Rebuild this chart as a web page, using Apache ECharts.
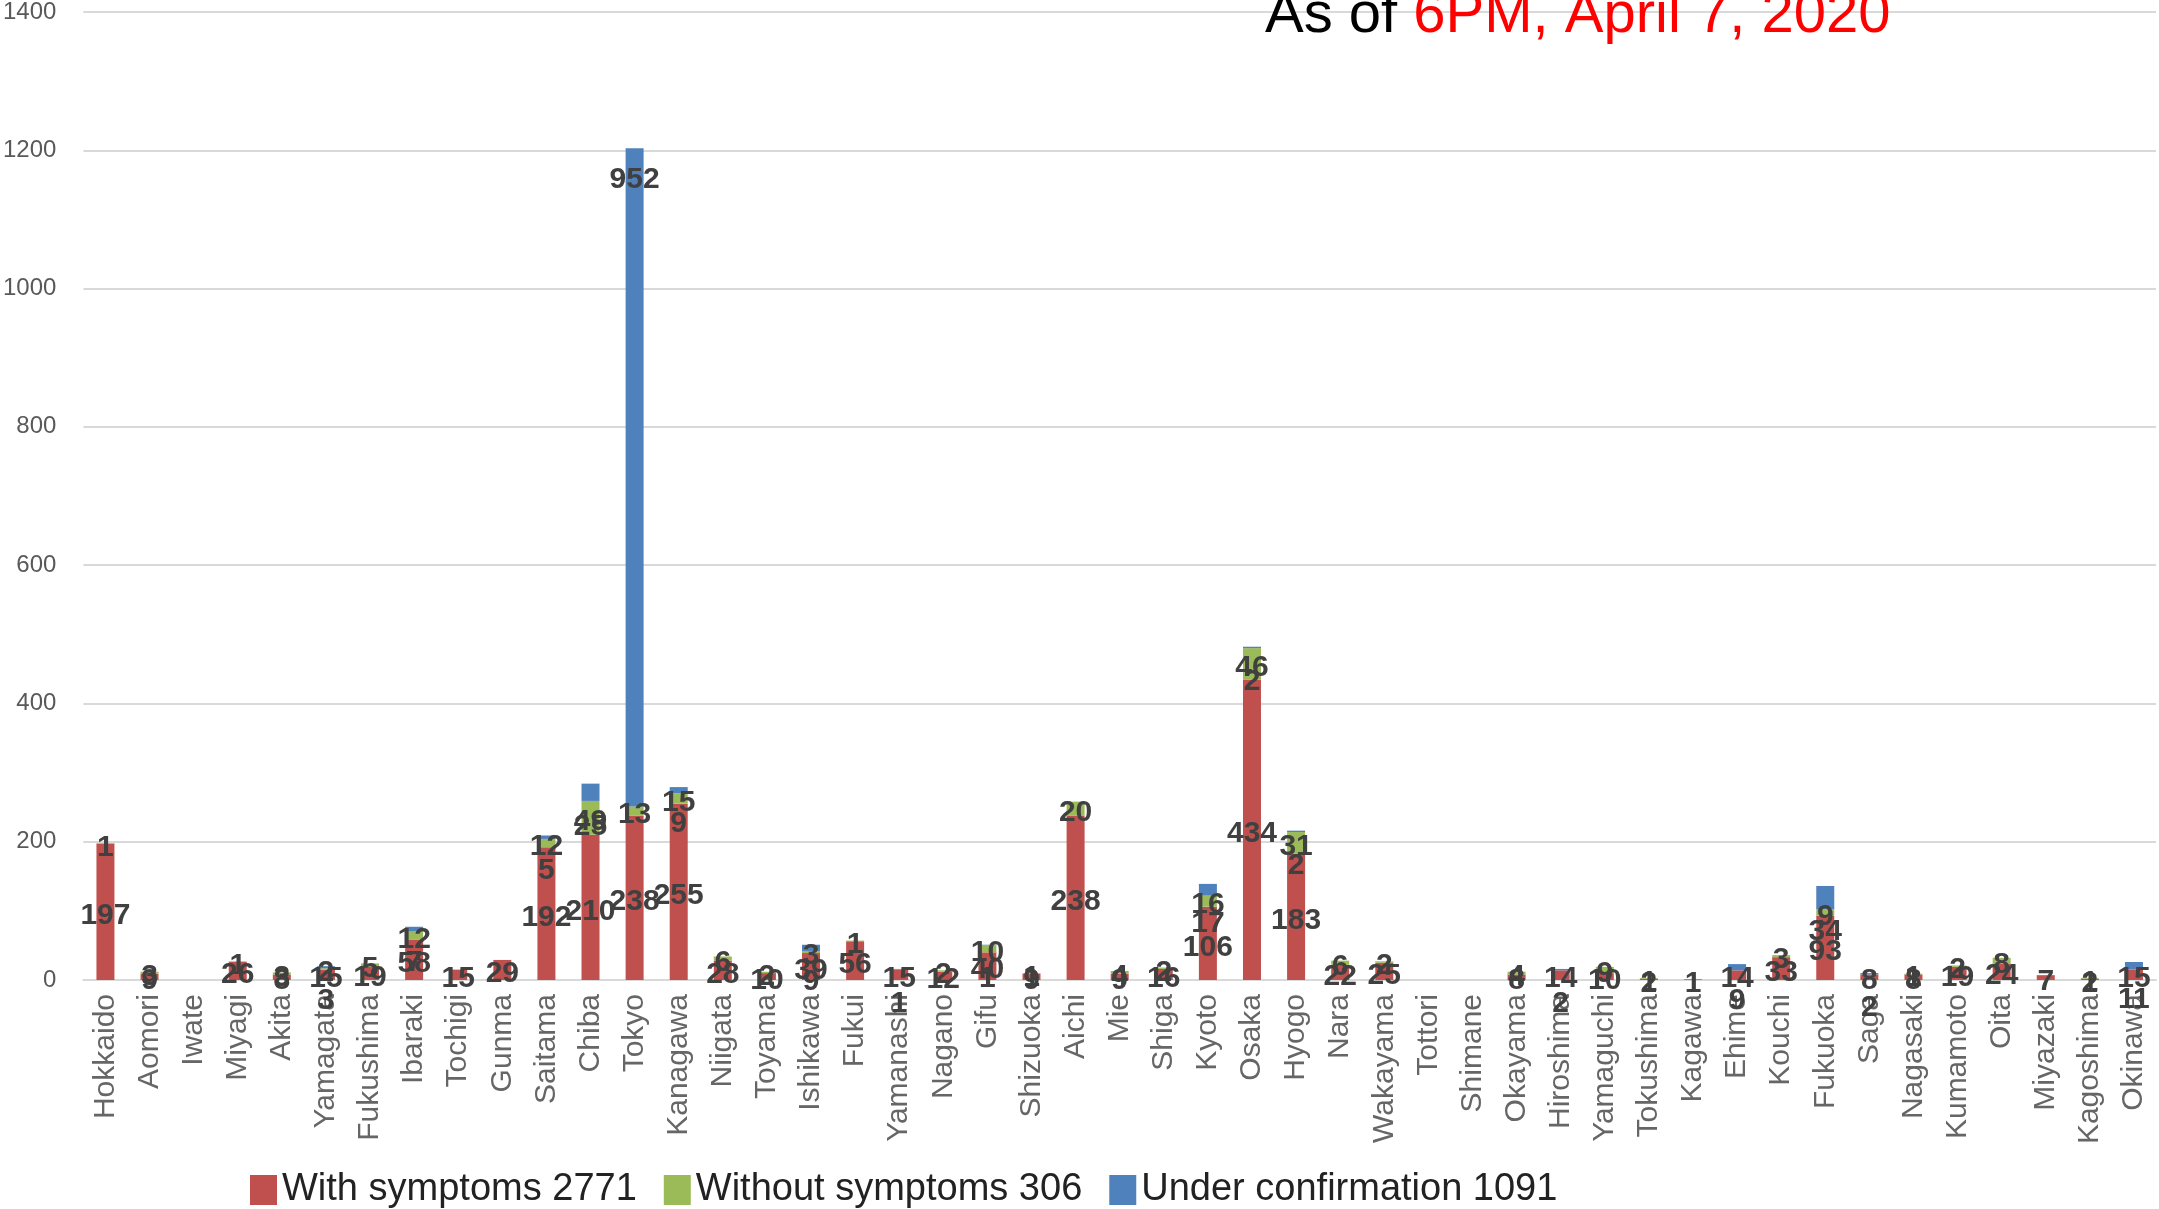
<!DOCTYPE html>
<html>
<head>
<meta charset="utf-8">
<script src="https://cdn.jsdelivr.net/npm/echarts@6/dist/echarts.min.js"></script>
<style>
  html, body { margin: 0; padding: 0; background: #fff; }
  #chart { width: 2159px; height: 1209px; }
</style>
</head>
<body>
<div id="chart"></div>
<script>
const prefectures = [
  "Hokkaido", "Aomori", "Iwate", "Miyagi", "Akita", "Yamagata", "Fukushima", "Ibaraki",
  "Tochigi", "Gunma", "Saitama", "Chiba", "Tokyo", "Kanagawa", "Niigata", "Toyama",
  "Ishikawa", "Fukui", "Yamanashi", "Nagano", "Gifu", "Shizuoka", "Aichi", "Mie",
  "Shiga", "Kyoto", "Osaka", "Hyogo", "Nara", "Wakayama", "Tottori", "Shimane",
  "Okayama", "Hiroshima", "Yamaguchi", "Tokushima", "Kagawa", "Ehime", "Kouchi", "Fukuoka",
  "Saga", "Nagasaki", "Kumamoto", "Oita", "Miyazaki", "Kagoshima", "Okinawa"
];

const withSymptoms = [
  197, 9, 0, 26, 8, 15, 19, 58,
  15, 29, 192, 210, 238, 255, 28, 10,
  39, 56, 15, 12, 40, 9, 238, 9,
  16, 106, 434, 183, 22, 25, 0, 0,
  8, 14, 10, 2, 1, 14, 33, 93,
  8, 8, 19, 24, 7, 2, 15
];

const withoutSymptoms = [
  1, 3, 0, 1, 3, 2, 5, 12,
  0, 0, 12, 49, 13, 15, 6, 2,
  3, 1, 0, 2, 10, 1, 20, 4,
  2, 16, 46, 31, 6, 2, 0, 0,
  4, 0, 9, 1, 0, 0, 3, 9,
  0, 1, 2, 8, 0, 1, 0
];

const underConfirmation = [
  0, 0, 0, 0, 0, 3, 0, 7,
  0, 0, 5, 25, 952, 9, 0, 0,
  9, 0, 1, 0, 1, 0, 0, 0,
  0, 17, 2, 2, 0, 0, 0, 0,
  0, 2, 0, 0, 0, 9, 0, 34,
  2, 0, 0, 0, 0, 0, 11
];

const legendNames = ["With symptoms 2771", "Without symptoms 306", "Under confirmation 1091"];
const yTicks = { min: 0, max: 1400, interval: 200 };

const font = "'Liberation Sans', Arial, sans-serif";

const chart = echarts.init(document.getElementById("chart"));

const dataLabel = {
  show: true,
  position: "inside",
  offset: [0, 4],
  fontFamily: font,
  fontWeight: "bold",
  fontSize: 30,
  color: "#404040",
  formatter: (p) => (p.value ? p.value : "")
};

// Tokyo's big label sits near the top of its bar in the original
const tokyo = prefectures.indexOf("Tokyo");
const blueData = underConfirmation.map((v, i) =>
  i === tokyo ? { value: v, label: { position: "insideTop", offset: [0, 12] } } : v
);

const option = {
  animation: false,
  backgroundColor: "#fff",
  title: {
    text: "{a|As of }{b|6PM, April 7, 2020}",
    left: 1260,
    top: -18,
    textStyle: {
      rich: {
        a: { color: "#000", fontSize: 58, lineHeight: 58, fontFamily: font, fontWeight: "normal" },
        b: { color: "#ff0000", fontSize: 58, lineHeight: 58, fontFamily: font, fontWeight: "normal" }
      }
    }
  },
  legend: {
    data: legendNames,
    left: 245,
    top: 1166,
    icon: "rect",
    itemWidth: 27,
    itemHeight: 30,
    itemGap: 27,
    textStyle: { fontFamily: font, fontSize: 38, color: "#222" }
  },
  grid: { left: 83, right: 3, top: 11, bottom: 229, containLabel: false },
  xAxis: {
    type: "category",
    data: prefectures,
    axisLine: { show: true, lineStyle: { color: "#d9d9d9", width: 2 } },
    axisTick: { show: false },
    axisLabel: {
      interval: 0,
      rotate: 90,
      margin: 14,
      fontFamily: font,
      fontSize: 30,
      color: "#666"
    }
  },
  yAxis: {
    type: "value",
    min: yTicks.min,
    max: yTicks.max,
    interval: yTicks.interval,
    axisLine: { show: false },
    axisTick: { show: false },
    splitLine: { lineStyle: { color: "#d9d9d9", width: 2 } },
    axisLabel: {
      margin: 27,
      fontFamily: font,
      fontSize: 24,
      color: "#595959",
      formatter: (v) => String(v)
    }
  },
  series: [
    {
      name: legendNames[0],
      type: "bar",
      stack: "total",
      barWidth: 18,
      itemStyle: { color: "#c0504d" },
      label: dataLabel,
      data: withSymptoms
    },
    {
      name: legendNames[1],
      type: "bar",
      stack: "total",
      barWidth: 18,
      itemStyle: { color: "#9bbb59" },
      label: dataLabel,
      data: withoutSymptoms
    },
    {
      name: legendNames[2],
      type: "bar",
      stack: "total",
      barWidth: 18,
      itemStyle: { color: "#4f81bd" },
      label: Object.assign({}, dataLabel, { offset: [0, 34] }),
      data: blueData
    }
  ]
};

chart.setOption(option);
</script>
</body>
</html>
